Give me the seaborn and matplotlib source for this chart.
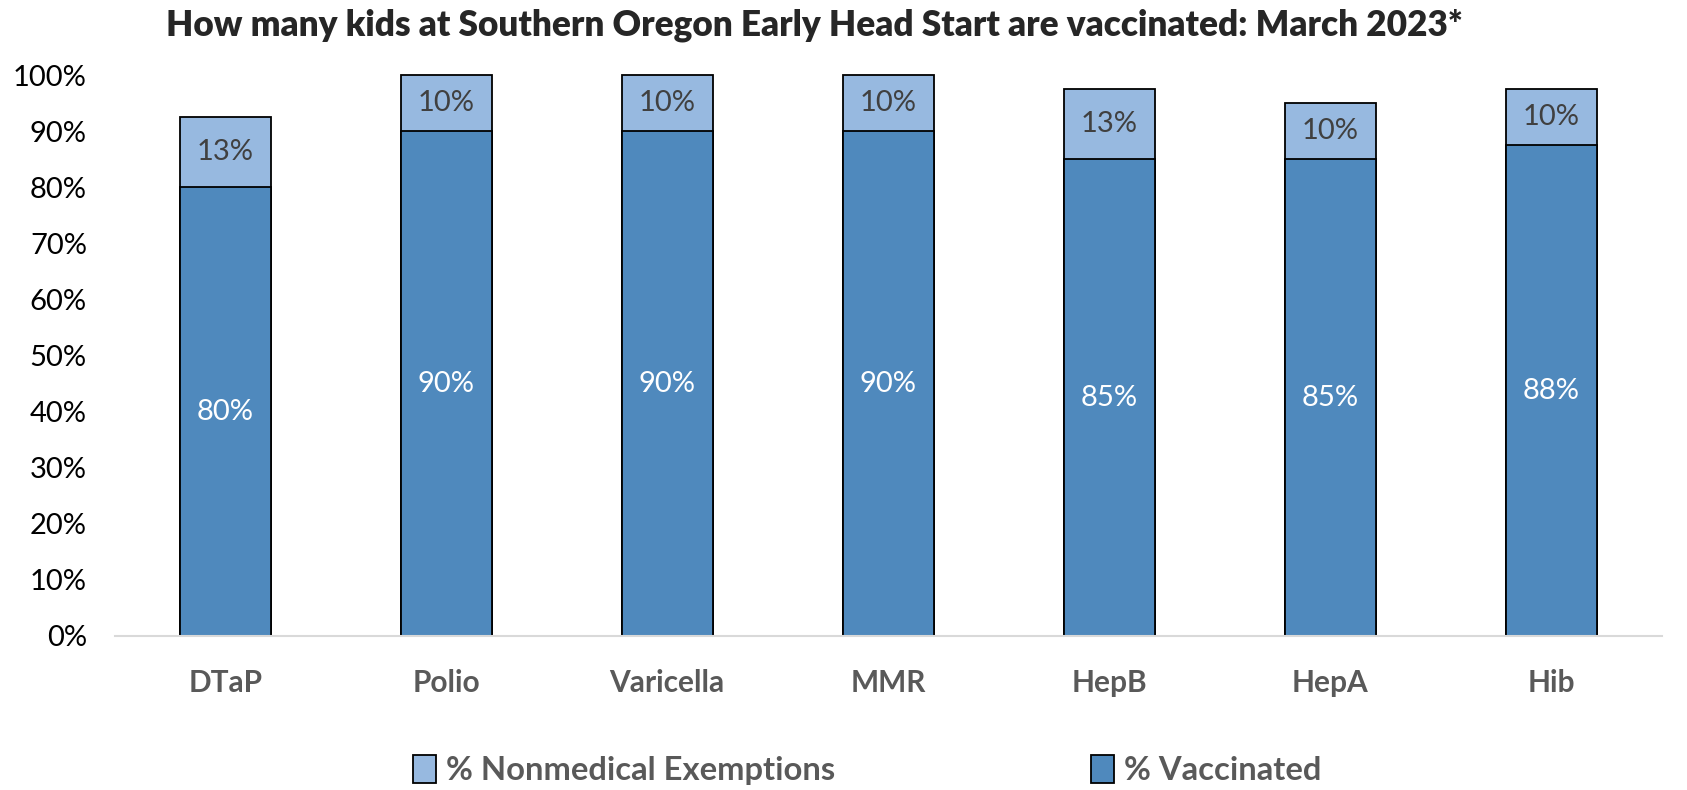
import pandas as pd
import matplotlib.pyplot as plt
import seaborn as sns
from matplotlib.patches import Patch

# Data
vaccines = ['DTaP', 'Polio', 'Varicella', 'MMR', 'HepB', 'HepA', 'Hib']
vaccinated = [80, 90, 90, 90, 85, 85, 87.5]
exemptions = [12.5, 10, 10, 10, 12.5, 10, 10]
yticks = [0, 10, 20, 30, 40, 50, 60, 70, 80, 90, 100]

title = 'How many kids at Southern Oregon Early Head Start are vaccinated: March 2023*'
dark = '#4F89BD'
light = '#97B9E0'

df = pd.DataFrame({'vaccine': vaccines, 'vaccinated': vaccinated, 'exempt': exemptions})
df['total'] = df['vaccinated'] + df['exempt']

sns.set_style('white')
plt.rcParams['font.family'] = ['Lato', 'DejaVu Sans']

fig = plt.figure(figsize=(16.87, 7.9), dpi=100)
ax = fig.add_axes([0.068, 0.195, 0.917, 0.710])

# stacked bars: total (light) behind, vaccinated (dark) on top
sns.barplot(data=df, x='vaccine', y='total', order=vaccines, color=light,
            width=0.41, edgecolor='black', linewidth=1.3, saturation=1, ax=ax)
sns.barplot(data=df, x='vaccine', y='vaccinated', order=vaccines, color=dark,
            width=0.41, edgecolor='black', linewidth=1.3, saturation=1, ax=ax)
for p in ax.patches:
    p.set_clip_on(False)


def pct(v):
    return f'{int(v + 0.5)}%'


for i, row in df.iterrows():
    ax.text(i, row['vaccinated'] / 2, pct(row['vaccinated']), ha='center', va='center',
            color='white', fontsize=21)
    ax.text(i, row['vaccinated'] + row['exempt'] / 2, pct(row['exempt']), ha='center',
            va='center', color='#404040', fontsize=21)

ax.set_ylim(0, 100)
ax.set_xlim(-0.5, len(vaccines) - 0.5)
ax.set_yticks(yticks)
ax.set_yticklabels([f'{t}%' for t in yticks], fontsize=21, color='black')
ax.set_xticks(range(len(vaccines)))
ax.set_xticklabels(vaccines, fontsize=21.5, fontweight='bold', color='#595959')
ax.tick_params(axis='y', length=0, pad=20)
ax.tick_params(axis='x', length=0, pad=24)
ax.set_xlabel('')
ax.set_ylabel('')
for s in ['top', 'right', 'left']:
    ax.spines[s].set_visible(False)
ax.spines['bottom'].set_color('#D9D9D9')
ax.spines['bottom'].set_linewidth(1.5)

fig.text(0.483, 0.968, title, ha='center', va='center', fontsize=25.3, fontweight='heavy')

handles = [Patch(facecolor=light, edgecolor='black', linewidth=1.3),
           Patch(facecolor=dark, edgecolor='black', linewidth=1.3)]
fig.legend(handles, ['% Nonmedical Exemptions', '% Vaccinated'], loc='center',
           bbox_to_anchor=(0.514, 0.025), ncol=2, frameon=False, columnspacing=7.8,
           handlelength=0.7, handleheight=0.9, handletextpad=0.3,
           prop={'size': 23.6, 'weight': 'bold'}, labelcolor='#595959')

fig.savefig('out.png', dpi=100)
